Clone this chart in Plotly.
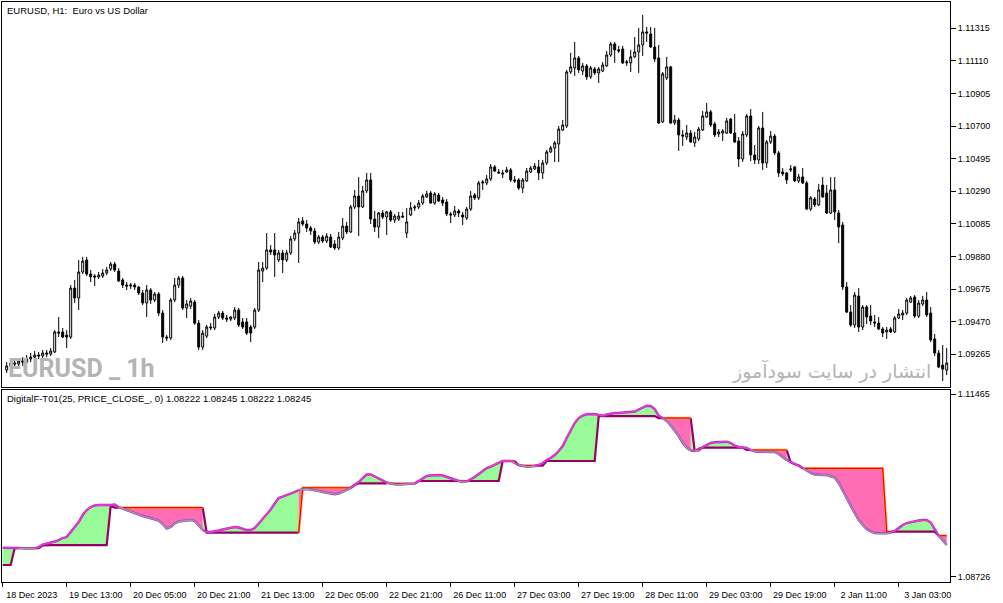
import plotly.graph_objects as go

# hourly EURUSD candles, bar index 1..236 (bar 0 sits under the left frame)
bar_index = list(range(1, 237))

opens = [
    1.09166, 1.09191, 1.09210, 1.09203, 1.09222, 1.09216, 1.09235, 1.09247, 1.09260, 1.09254,
    1.09273, 1.09266, 1.09279, 1.09405, 1.09405, 1.09386, 1.09373, 1.09681, 1.09619, 1.09782,
    1.09858, 1.09769, 1.09757, 1.09751, 1.09757, 1.09776, 1.09801, 1.09832, 1.09788, 1.09732,
    1.09700, 1.09694, 1.09700, 1.09688, 1.09650, 1.09587, 1.09669, 1.09606, 1.09644, 1.09524,
    1.09373, 1.09367, 1.09606, 1.09700, 1.09744, 1.09556, 1.09568, 1.09593, 1.09461, 1.09310,
    1.09379, 1.09430, 1.09430, 1.09499, 1.09524, 1.09493, 1.09486, 1.09493, 1.09543, 1.09468,
    1.09468, 1.09436, 1.09436, 1.09543, 1.09788, 1.09807, 1.09921, 1.09921, 1.09858, 1.09902,
    1.09858, 1.09902, 1.09990, 1.10027, 1.10103, 1.10084, 1.10059, 1.10040, 1.09971, 1.10002,
    1.09977, 1.10002, 1.09958, 1.09933, 1.09996, 1.10071, 1.10034, 1.10191, 1.10260, 1.10191,
    1.10292, 1.10361, 1.10115, 1.10065, 1.10153, 1.10128, 1.10160, 1.10109, 1.10115, 1.10134,
    1.10027, 1.10141, 1.10185, 1.10191, 1.10216, 1.10254, 1.10279, 1.10216, 1.10266, 1.10235,
    1.10222, 1.10147, 1.10141, 1.10166, 1.10141, 1.10122, 1.10178, 1.10266, 1.10248, 1.10342,
    1.10342, 1.10367, 1.10443, 1.10411, 1.10405, 1.10411, 1.10424, 1.10361, 1.10361, 1.10310,
    1.10355, 1.10411, 1.10430, 1.10443, 1.10405, 1.10468, 1.10537, 1.10562, 1.10587, 1.10675,
    1.10700, 1.11040, 1.11065, 1.11128, 1.11046, 1.11078, 1.11009, 1.11059, 1.11034, 1.11046,
    1.11078, 1.11147, 1.11216, 1.11179, 1.11185, 1.11097, 1.11097, 1.11135, 1.11166, 1.11210,
    1.11292, 1.11279, 1.11197, 1.11128, 1.10726, 1.11002, 1.11072, 1.10719, 1.10738, 1.10644,
    1.10631, 1.10656, 1.10594, 1.10619, 1.10675, 1.10757, 1.10789, 1.10713, 1.10650, 1.10656,
    1.10656, 1.10744, 1.10656, 1.10606, 1.10493, 1.10644, 1.10763, 1.10518, 1.10487, 1.10688,
    1.10468, 1.10600, 1.10637, 1.10531, 1.10411, 1.10405, 1.10424, 1.10443, 1.10355, 1.10380,
    1.10342, 1.10178, 1.10241, 1.10204, 1.10329, 1.10279, 1.10153, 1.10298, 1.10153, 1.10078,
    1.09688, 1.09530, 1.09449, 1.09631, 1.09436, 1.09562, 1.09505, 1.09468, 1.09461, 1.09424,
    1.09405, 1.09424, 1.09405, 1.09493, 1.09512, 1.09524, 1.09593, 1.09625, 1.09505, 1.09581,
    1.09606, 1.09524, 1.09361, 1.09273, 1.09197, 1.09166,
]

highs = [
    1.09216, 1.09229, 1.09235, 1.09241, 1.09247, 1.09260, 1.09273, 1.09285, 1.09279, 1.09292,
    1.09292, 1.09304, 1.09417, 1.09499, 1.09430, 1.09417, 1.09700, 1.09732, 1.09858, 1.09877,
    1.09877, 1.09795, 1.09769, 1.09782, 1.09801, 1.09814, 1.09845, 1.09845, 1.09807, 1.09744,
    1.09719, 1.09713, 1.09713, 1.09694, 1.09669, 1.09700, 1.09681, 1.09656, 1.09656, 1.09543,
    1.09386, 1.09619, 1.09744, 1.09757, 1.09757, 1.09606, 1.09619, 1.09606, 1.09480, 1.09417,
    1.09449, 1.09461, 1.09518, 1.09537, 1.09537, 1.09512, 1.09505, 1.09562, 1.09556, 1.09493,
    1.09493, 1.09449, 1.09556, 1.09845, 1.09845, 1.10027, 1.09952, 1.10027, 1.09921, 1.09921,
    1.09921, 1.10008, 1.10046, 1.10122, 1.10128, 1.10109, 1.10071, 1.10059, 1.10015, 1.10015,
    1.10027, 1.10021, 1.09983, 1.10034, 1.10122, 1.10097, 1.10204, 1.10298, 1.10380, 1.10323,
    1.10405, 1.10405, 1.10166, 1.10160, 1.10172, 1.10166, 1.10172, 1.10147, 1.10160, 1.10160,
    1.10185, 1.10222, 1.10204, 1.10235, 1.10273, 1.10292, 1.10292, 1.10285, 1.10279, 1.10254,
    1.10241, 1.10160, 1.10197, 1.10178, 1.10160, 1.10191, 1.10292, 1.10279, 1.10355, 1.10361,
    1.10392, 1.10461, 1.10455, 1.10430, 1.10424, 1.10443, 1.10436, 1.10386, 1.10373, 1.10373,
    1.10436, 1.10449, 1.10468, 1.10487, 1.10487, 1.10550, 1.10575, 1.10606, 1.10700, 1.10738,
    1.11053, 1.11160, 1.11229, 1.11141, 1.11097, 1.11090, 1.11078, 1.11072, 1.11072, 1.11103,
    1.11172, 1.11229, 1.11229, 1.11204, 1.11204, 1.11116, 1.11179, 1.11260, 1.11317, 1.11399,
    1.11323, 1.11323, 1.11317, 1.11210, 1.11040, 1.11135, 1.11078, 1.10770, 1.10751, 1.10675,
    1.10707, 1.10675, 1.10663, 1.10694, 1.10795, 1.10845, 1.10801, 1.10726, 1.10681, 1.10681,
    1.10751, 1.10751, 1.10776, 1.10631, 1.10669, 1.10776, 1.10807, 1.10581, 1.10700, 1.10789,
    1.10612, 1.10669, 1.10650, 1.10543, 1.10436, 1.10411, 1.10455, 1.10449, 1.10399, 1.10436,
    1.10355, 1.10260, 1.10254, 1.10336, 1.10380, 1.10329, 1.10380, 1.10380, 1.10172, 1.10097,
    1.09719, 1.09574, 1.09656, 1.09681, 1.09574, 1.09574, 1.09574, 1.09512, 1.09499, 1.09436,
    1.09436, 1.09436, 1.09505, 1.09549, 1.09543, 1.09619, 1.09631, 1.09637, 1.09606, 1.09631,
    1.09656, 1.09562, 1.09392, 1.09292, 1.09323, 1.09304,
]

lows = [
    1.09147, 1.09172, 1.09185, 1.09191, 1.09191, 1.09203, 1.09216, 1.09229, 1.09235, 1.09241,
    1.09247, 1.09254, 1.09273, 1.09373, 1.09367, 1.09304, 1.09361, 1.09587, 1.09543, 1.09769,
    1.09757, 1.09719, 1.09694, 1.09738, 1.09744, 1.09763, 1.09788, 1.09782, 1.09719, 1.09681,
    1.09669, 1.09675, 1.09669, 1.09637, 1.09574, 1.09499, 1.09581, 1.09593, 1.09505, 1.09336,
    1.09348, 1.09355, 1.09593, 1.09681, 1.09543, 1.09493, 1.09549, 1.09449, 1.09292, 1.09292,
    1.09367, 1.09417, 1.09417, 1.09486, 1.09480, 1.09468, 1.09474, 1.09480, 1.09436, 1.09424,
    1.09386, 1.09342, 1.09424, 1.09530, 1.09719, 1.09795, 1.09889, 1.09751, 1.09845, 1.09776,
    1.09845, 1.09889, 1.09977, 1.09839, 1.10071, 1.10034, 1.10015, 1.09958, 1.09958, 1.09964,
    1.09964, 1.09933, 1.09921, 1.09921, 1.09983, 1.10021, 1.10027, 1.10178, 1.10008, 1.10185,
    1.10279, 1.10084, 1.10034, 1.09996, 1.10115, 1.10015, 1.10097, 1.10090, 1.10103, 1.10122,
    1.09996, 1.10134, 1.10166, 1.10178, 1.10204, 1.10248, 1.10210, 1.10204, 1.10222, 1.10197,
    1.10134, 1.10090, 1.10128, 1.10128, 1.10078, 1.10109, 1.10166, 1.10235, 1.10235, 1.10298,
    1.10329, 1.10355, 1.10411, 1.10399, 1.10373, 1.10405, 1.10348, 1.10342, 1.10298, 1.10279,
    1.10348, 1.10405, 1.10424, 1.10361, 1.10367, 1.10455, 1.10531, 1.10474, 1.10474, 1.10669,
    1.10688, 1.11028, 1.11015, 1.11034, 1.11021, 1.10990, 1.10996, 1.11021, 1.10971, 1.11040,
    1.11072, 1.11135, 1.11097, 1.11160, 1.11090, 1.11078, 1.11040, 1.11128, 1.11034, 1.11141,
    1.11229, 1.11191, 1.11103, 1.10713, 1.10719, 1.10990, 1.10713, 1.10707, 1.10543, 1.10575,
    1.10612, 1.10594, 1.10568, 1.10606, 1.10669, 1.10751, 1.10694, 1.10631, 1.10631, 1.10606,
    1.10650, 1.10650, 1.10594, 1.10443, 1.10474, 1.10631, 1.10480, 1.10461, 1.10461, 1.10424,
    1.10436, 1.10587, 1.10518, 1.10380, 1.10386, 1.10336, 1.10411, 1.10348, 1.10342, 1.10336,
    1.10172, 1.10166, 1.10191, 1.10197, 1.10248, 1.10147, 1.10147, 1.10109, 1.09964, 1.09669,
    1.09524, 1.09436, 1.09430, 1.09405, 1.09417, 1.09455, 1.09449, 1.09436, 1.09417, 1.09373,
    1.09361, 1.09398, 1.09398, 1.09486, 1.09480, 1.09512, 1.09587, 1.09493, 1.09493, 1.09568,
    1.09499, 1.09342, 1.09254, 1.09178, 1.09097, 1.09134,
]

closes = [
    1.09191, 1.09210, 1.09203, 1.09222, 1.09216, 1.09235, 1.09247, 1.09260, 1.09254, 1.09273,
    1.09266, 1.09285, 1.09405, 1.09398, 1.09373, 1.09373, 1.09681, 1.09619, 1.09782, 1.09851,
    1.09769, 1.09751, 1.09751, 1.09763, 1.09776, 1.09795, 1.09832, 1.09795, 1.09726, 1.09700,
    1.09694, 1.09700, 1.09688, 1.09650, 1.09587, 1.09669, 1.09606, 1.09644, 1.09524, 1.09373,
    1.09367, 1.09606, 1.09700, 1.09744, 1.09556, 1.09581, 1.09600, 1.09461, 1.09310, 1.09398,
    1.09436, 1.09436, 1.09499, 1.09524, 1.09493, 1.09486, 1.09499, 1.09543, 1.09449, 1.09436,
    1.09398, 1.09398, 1.09543, 1.09795, 1.09807, 1.09921, 1.09908, 1.09889, 1.09902, 1.09858,
    1.09902, 1.09990, 1.10027, 1.10097, 1.10084, 1.10059, 1.10040, 1.09971, 1.10002, 1.09977,
    1.10008, 1.09939, 1.09933, 1.10002, 1.10071, 1.10034, 1.10191, 1.10260, 1.10191, 1.10292,
    1.10361, 1.10115, 1.10065, 1.10153, 1.10128, 1.10160, 1.10109, 1.10134, 1.10134, 1.10128,
    1.10097, 1.10185, 1.10191, 1.10216, 1.10260, 1.10273, 1.10216, 1.10273, 1.10229, 1.10216,
    1.10147, 1.10141, 1.10166, 1.10153, 1.10128, 1.10178, 1.10260, 1.10248, 1.10342, 1.10348,
    1.10367, 1.10443, 1.10417, 1.10405, 1.10399, 1.10424, 1.10361, 1.10355, 1.10310, 1.10361,
    1.10417, 1.10436, 1.10449, 1.10405, 1.10468, 1.10537, 1.10562, 1.10594, 1.10681, 1.10707,
    1.11040, 1.11072, 1.11128, 1.11053, 1.11078, 1.11009, 1.11065, 1.11034, 1.11059, 1.11084,
    1.11147, 1.11216, 1.11179, 1.11172, 1.11097, 1.11103, 1.11135, 1.11166, 1.11210, 1.11292,
    1.11285, 1.11197, 1.11122, 1.10719, 1.11028, 1.11072, 1.10719, 1.10738, 1.10644, 1.10637,
    1.10656, 1.10600, 1.10631, 1.10681, 1.10763, 1.10789, 1.10707, 1.10644, 1.10663, 1.10669,
    1.10732, 1.10656, 1.10600, 1.10493, 1.10650, 1.10763, 1.10518, 1.10487, 1.10688, 1.10468,
    1.10600, 1.10637, 1.10531, 1.10405, 1.10399, 1.10361, 1.10430, 1.10355, 1.10380, 1.10342,
    1.10178, 1.10248, 1.10204, 1.10298, 1.10254, 1.10153, 1.10298, 1.10160, 1.10065, 1.09688,
    1.09530, 1.09449, 1.09637, 1.09436, 1.09562, 1.09499, 1.09474, 1.09461, 1.09424, 1.09398,
    1.09417, 1.09405, 1.09493, 1.09518, 1.09524, 1.09606, 1.09619, 1.09505, 1.09587, 1.09606,
    1.09512, 1.09355, 1.09273, 1.09185, 1.09172, 1.09210,
]

# DigitalF-T01 buffers, bars 0..236
filter_fast = [
    1.09161, 1.09156, 1.09156, 1.09156, 1.09156, 1.09149, 1.09149, 1.09149, 1.09152, 1.09171,
    1.09209, 1.09224, 1.09231, 1.09254, 1.09276, 1.09306, 1.09321, 1.09396, 1.09471, 1.09546,
    1.09651, 1.09726, 1.09771, 1.09794, 1.09801, 1.09801, 1.09794, 1.09801, 1.09809, 1.09771,
    1.09749, 1.09726, 1.09696, 1.09674, 1.09659, 1.09636, 1.09621, 1.09606, 1.09591, 1.09569,
    1.09516, 1.09449, 1.09471, 1.09524, 1.09554, 1.09561, 1.09569, 1.09576, 1.09561, 1.09501,
    1.09426, 1.09396, 1.09396, 1.09404, 1.09419, 1.09434, 1.09449, 1.09464, 1.09471, 1.09464,
    1.09441, 1.09426, 1.09426, 1.09456, 1.09524, 1.09591, 1.09651, 1.09734, 1.09823, 1.09906,
    1.09928, 1.09951, 1.09966, 1.09996, 1.10026, 1.10033, 1.10041, 1.10033, 1.10026, 1.10011,
    1.09996, 1.09981, 1.09966, 1.09961, 1.09973, 1.09996, 1.10026, 1.10056, 1.10101, 1.10146,
    1.10206, 1.10258, 1.10258, 1.10228, 1.10191, 1.10161, 1.10138, 1.10123, 1.10111, 1.10108,
    1.10111, 1.10116, 1.10119, 1.10122, 1.10161, 1.10198, 1.10236, 1.10243, 1.10251, 1.10251,
    1.10243, 1.10221, 1.10198, 1.10176, 1.10161, 1.10146, 1.10153, 1.10183, 1.10221, 1.10266,
    1.10311, 1.10356, 1.10378, 1.10408, 1.10438, 1.10461, 1.10461, 1.10461, 1.10431, 1.10401,
    1.10386, 1.10375, 1.10378, 1.10386, 1.10401, 1.10431, 1.10476, 1.10506, 1.10551, 1.10611,
    1.10686, 1.10806, 1.10910, 1.11030, 1.11105, 1.11143, 1.11161, 1.11165, 1.11165, 1.11150,
    1.11140, 1.11158, 1.11173, 1.11180, 1.11180, 1.11184, 1.11188, 1.11191, 1.11203, 1.11233,
    1.11263, 1.11290, 1.11285, 1.11240, 1.11140, 1.11105, 1.11060, 1.10993, 1.10918, 1.10835,
    1.10731, 1.10663, 1.10618, 1.10611, 1.10618, 1.10671, 1.10701, 1.10731, 1.10741, 1.10746,
    1.10750, 1.10750, 1.10731, 1.10693, 1.10671, 1.10663, 1.10656, 1.10626, 1.10606, 1.10600,
    1.10596, 1.10591, 1.10596, 1.10596, 1.10566, 1.10521, 1.10476, 1.10441, 1.10416, 1.10393,
    1.10356, 1.10318, 1.10281, 1.10258, 1.10251, 1.10251, 1.10251, 1.10236, 1.10213, 1.10131,
    1.10026, 1.09906, 1.09786, 1.09681, 1.09576, 1.09501, 1.09441, 1.09404, 1.09381, 1.09377,
    1.09374, 1.09377, 1.09389, 1.09411, 1.09456, 1.09501, 1.09531, 1.09546, 1.09561, 1.09569,
    1.09576, 1.09576, 1.09539, 1.09441, 1.09341, 1.09276, 1.09201,
]

filter_step = [
    1.08902, 1.08902, 1.08902, 1.09156, 1.09156, 1.09156, 1.09156, 1.09156, 1.09156, 1.09156,
    1.09194, 1.09201, 1.09201, 1.09201, 1.09201, 1.09201, 1.09201, 1.09201, 1.09201, 1.09201,
    1.09201, 1.09201, 1.09201, 1.09201, 1.09201, 1.09201, 1.09201, 1.09790, 1.09761, 1.09761,
    1.09761, 1.09761, 1.09761, 1.09761, 1.09761, 1.09761, 1.09761, 1.09761, 1.09761, 1.09761,
    1.09761, 1.09761, 1.09761, 1.09761, 1.09761, 1.09761, 1.09761, 1.09761, 1.09761, 1.09761,
    1.09761, 1.09386, 1.09386, 1.09386, 1.09386, 1.09386, 1.09386, 1.09386, 1.09386, 1.09386,
    1.09386, 1.09386, 1.09386, 1.09386, 1.09386, 1.09386, 1.09386, 1.09386, 1.09386, 1.09386,
    1.09386, 1.09386, 1.09386, 1.09386, 1.09386, 1.10060, 1.10060, 1.10060, 1.10060, 1.10060,
    1.10060, 1.10060, 1.10060, 1.10060, 1.10060, 1.10060, 1.10060, 1.10060, 1.10101, 1.10126,
    1.10126, 1.10126, 1.10126, 1.10126, 1.10126, 1.10126, 1.10126, 1.10126, 1.10123, 1.10123,
    1.10123, 1.10123, 1.10123, 1.10123, 1.10161, 1.10161, 1.10161, 1.10161, 1.10161, 1.10161,
    1.10161, 1.10161, 1.10161, 1.10161, 1.10161, 1.10161, 1.10161, 1.10161, 1.10161, 1.10161,
    1.10161, 1.10161, 1.10161, 1.10161, 1.10161, 1.10461, 1.10461, 1.10461, 1.10461, 1.10393,
    1.10393, 1.10393, 1.10393, 1.10393, 1.10393, 1.10393, 1.10461, 1.10461, 1.10461, 1.10461,
    1.10461, 1.10461, 1.10461, 1.10461, 1.10461, 1.10461, 1.10461, 1.10461, 1.10461, 1.11135,
    1.11135, 1.11135, 1.11135, 1.11135, 1.11135, 1.11135, 1.11135, 1.11135, 1.11135, 1.11135,
    1.11135, 1.11135, 1.11135, 1.11135, 1.11105, 1.11105, 1.11105, 1.11105, 1.11105, 1.11105,
    1.11105, 1.11105, 1.11105, 1.10611, 1.10648, 1.10660, 1.10660, 1.10660, 1.10660, 1.10660,
    1.10660, 1.10660, 1.10660, 1.10660, 1.10660, 1.10660, 1.10626, 1.10626, 1.10626, 1.10626,
    1.10626, 1.10626, 1.10626, 1.10626, 1.10626, 1.10626, 1.10626, 1.10441, 1.10411, 1.10393,
    1.10351, 1.10351, 1.10351, 1.10351, 1.10351, 1.10351, 1.10351, 1.10351, 1.10351, 1.10351,
    1.10351, 1.10351, 1.10351, 1.10351, 1.10351, 1.10351, 1.10351, 1.10351, 1.10351, 1.10351,
    1.10351, 1.09401, 1.09401, 1.09401, 1.09401, 1.09401, 1.09401, 1.09401, 1.09401, 1.09401,
    1.09401, 1.09401, 1.09401, 1.09401, 1.09341, 1.09341, 1.09341,
]

time_ticks = [0, 16, 32, 48, 64, 80, 96, 112, 128, 144, 160, 176, 192, 208, 224]
time_labels = ["18 Dec 2023", "19 Dec 13:00", "20 Dec 05:00", "20 Dec 21:00", "21 Dec 13:00",
               "22 Dec 05:00", "22 Dec 21:00", "26 Dec 11:00", "27 Dec 03:00", "27 Dec 19:00",
               "28 Dec 11:00", "29 Dec 03:00", "29 Dec 19:00", "2 Jan 11:00", "3 Jan 03:00"]
price_ticks = [1.09265, 1.09470, 1.09675, 1.09880, 1.10085, 1.10290, 1.10495,
               1.10700, 1.10905, 1.11110, 1.11315]
ind_ticks = [1.08726, 1.11465]

FONT = "Liberation Sans, Arial, sans-serif"

fig = go.Figure()

fig.add_trace(go.Candlestick(
    x=bar_index, open=opens, high=highs, low=lows, close=closes,
    increasing=dict(line=dict(color="black", width=1), fillcolor="white"),
    decreasing=dict(line=dict(color="black", width=1), fillcolor="black"),
    whiskerwidth=0, xaxis="x", yaxis="y", showlegend=False, hoverinfo="skip"))

# split the indicator into runs where fast line is above / below the step line
n = len(filter_fast)
ind_x = list(range(n))
up = [filter_fast[i] >= filter_step[i] for i in range(n)]
runs = []
i = 1
while i < n:
    j = i
    while j + 1 < n and up[j + 1] == up[i]:
        j += 1
    runs.append((i - 1, j, up[i]))
    i = j + 1

fill = {True: ([], []), False: ([], [])}
fast_seg = {True: ([], []), False: ([], [])}
step_seg = {True: ([], []), False: ([], [])}
for a, b, s in runs:
    xs = ind_x[a:b + 1]
    fx, fy = fill[s]
    fx += xs + xs[::-1] + [None]
    fy += filter_fast[a:b + 1] + filter_step[a:b + 1][::-1] + [None]
    fast_seg[s][0].extend(xs + [None])
    fast_seg[s][1].extend(filter_fast[a:b + 1] + [None])
    step_seg[s][0].extend(xs + [None])
    step_seg[s][1].extend(filter_step[a:b + 1] + [None])

for s, col in [(True, "#98FB98"), (False, "#FF6EB4")]:
    fig.add_trace(go.Scatter(x=fill[s][0], y=fill[s][1], fill="toself", fillcolor=col,
                             mode="lines", line=dict(width=0), xaxis="x2", yaxis="y2",
                             showlegend=False, hoverinfo="skip"))

# step line: purple when below the fast line, red/orange when above
fig.add_trace(go.Scatter(x=step_seg[True][0], y=step_seg[True][1], mode="lines",
                         line=dict(color="#990066", width=2.2), xaxis="x2", yaxis="y2",
                         showlegend=False, hoverinfo="skip"))
fig.add_trace(go.Scatter(x=step_seg[False][0], y=step_seg[False][1], mode="lines",
                         line=dict(color="#FF9933", width=2.4), xaxis="x2", yaxis="y2",
                         showlegend=False, hoverinfo="skip"))
fig.add_trace(go.Scatter(x=step_seg[False][0], y=step_seg[False][1], mode="lines",
                         line=dict(color="#FF0000", width=1.2), xaxis="x2", yaxis="y2",
                         showlegend=False, hoverinfo="skip"))

# fast line: magenta when rising above, grey when falling below
for s, col in [(True, "#FF33CC"), (False, "#A0A0A0")]:
    fig.add_trace(go.Scatter(x=fast_seg[s][0], y=fast_seg[s][1], mode="lines",
                             line=dict(color="#9933CC", width=2.4), xaxis="x2", yaxis="y2",
                             showlegend=False, hoverinfo="skip"))
    fig.add_trace(go.Scatter(x=fast_seg[s][0], y=fast_seg[s][1], mode="lines",
                             line=dict(color=col, width=1.3), xaxis="x2", yaxis="y2",
                             showlegend=False, hoverinfo="skip"))

axis_common = dict(showgrid=False, zeroline=False, showline=True, linecolor="black",
                   linewidth=1, mirror=True)

fig.update_layout(
    width=1003, height=603,
    margin=dict(l=2, r=53, t=2, b=21),
    paper_bgcolor="white", plot_bgcolor="white",
    font=dict(family=FONT, size=9, color="black"),
    showlegend=False,
    xaxis=dict(axis_common, domain=[0, 1], anchor="y", range=[-0.175, 236.825],
               showticklabels=False, ticks="", rangeslider=dict(visible=False)),
    xaxis2=dict(axis_common, domain=[0, 1], anchor="y2", matches="x",
                range=[-0.175, 236.825], tickmode="array", tickvals=time_ticks,
                ticktext=time_labels, ticks="outside", ticklen=4, tickcolor="black",
                ticklabelshift=29, tickfont=dict(family=FONT, size=9)),
    yaxis=dict(axis_common, domain=[0.3362, 1], anchor="x", side="right",
               range=[1.09059, 1.11480], tickmode="array", tickvals=price_ticks,
               tickformat=".5f", ticks="outside", ticklen=5, tickcolor="black",
               tickfont=dict(family=FONT, size=9)),
    yaxis2=dict(axis_common, domain=[0, 0.331], anchor="x2", side="right",
                range=[1.08647, 1.11525], tickmode="array", tickvals=ind_ticks,
                tickformat=".5f", ticks="outside", ticklen=5, tickcolor="black",
                tickfont=dict(family=FONT, size=9)),
)

fig.add_annotation(text="EURUSD, H1:\u00a0 Euro vs US Dollar", xref="paper", yref="paper",
                   x=0, y=1, xanchor="left", yanchor="top", xshift=3, yshift=-1,
                   showarrow=False, font=dict(family=FONT, size=9.5, color="black"))
fig.add_annotation(text="DigitalF-T01(25, PRICE_CLOSE_, 0) 1.08222 1.08245 1.08222 1.08245",
                   xref="paper", yref="paper", x=0, y=0.331, xanchor="left", yanchor="top",
                   xshift=3, yshift=-1, showarrow=False,
                   font=dict(family=FONT, size=9.5, color="black"))
fig.add_annotation(text="<b>EURUSD _ 1h</b>", xref="paper", yref="paper",
                   x=0, y=0.3466, xanchor="left", yanchor="bottom", xshift=4, yshift=-4,
                   showarrow=False,
                   font=dict(family="Roboto, Liberation Sans", size=25, color="#B4B4B4"))
fig.add_annotation(text="انتشار در سایت سودآموز", xref="paper", yref="paper",
                   x=0.982, y=0.3466, xanchor="right", yanchor="bottom", yshift=-4,
                   showarrow=False, font=dict(family="DejaVu Sans", size=19, color="#B4B4B4"))

fig.write_html("out.html", config={"displayModeBar": False},
               post_script="document.body.style.margin='0';")
